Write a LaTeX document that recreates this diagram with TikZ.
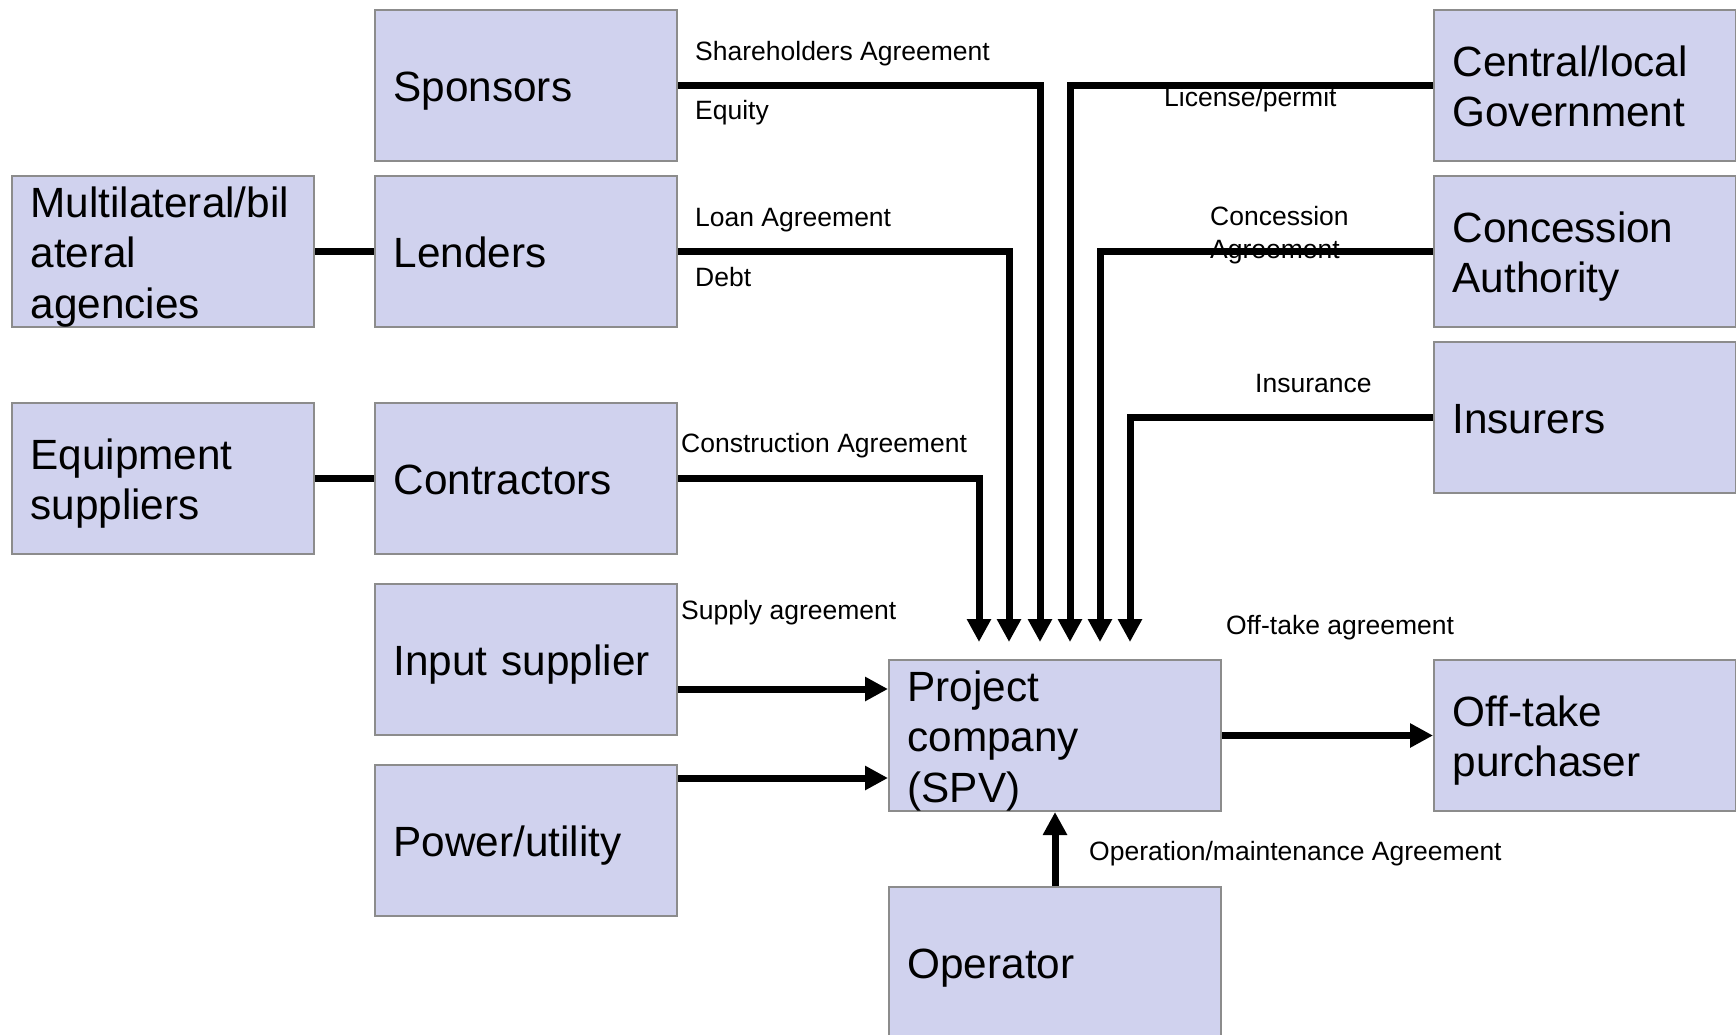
\documentclass[tikz,border=0pt]{standalone}
\usepackage{fontspec}
\setmainfont{Liberation Sans}
\usetikzlibrary{arrows.meta}
\definecolor{boxfill}{RGB}{208,210,238}
\definecolor{boxline}{RGB}{140,140,140}
\newcommand{\bigtxt}{\fontsize{42.3}{50.5}\selectfont}
\newcommand{\lbltxt}{\fontsize{26.5}{31}\selectfont}
\begin{document}
\begin{tikzpicture}[x=1pt,y=-1pt,
  party/.style={draw=boxline, line width=2pt, fill=boxfill, anchor=north west,
    minimum width=302pt, minimum height=151pt, inner xsep=18.5pt, inner ysep=0pt,
    text width=265pt, align=left, font=\bigtxt,
    execute at begin node={\rule{0pt}{41pt}},
    execute at end node={\rule[-9pt]{0pt}{9pt}}},
  wideparty/.style={party, minimum width=332pt, text width=295pt},
  lbl/.style={anchor=west, inner sep=0pt, align=left, font=\lbltxt,
    execute at begin node={\rule{0pt}{24pt}},
    execute at end node={\rule[-5pt]{0pt}{5pt}}},
  link/.style={line width=7pt},
  arr/.style={line width=7pt, -{Triangle[length=23pt,width=23pt]}}]
\useasboundingbox (0,0) rectangle (1736,1035);

% parties
\node[party] (sponsors)    at (374,9)   {Sponsors};
\node[party] (lenders)     at (374,175) {Lenders};
\node[party] (multi)       at (11,175)  {Multilateral/bil\\ateral\\agencies};
\node[party] (equip)       at (11,402)  {Equipment\\suppliers};
\node[party] (contractors) at (374,402) {Contractors};
\node[party] (input)       at (374,583) {Input supplier};
\node[party] (power)       at (374,764) {Power/utility};
\node[wideparty] (project) at (888,659) {Project\\company\\(SPV)};
\node[wideparty] (operator) at (888,886) {Operator};
\node[party] (offtake)     at (1433,659) {Off-take\\purchaser};
\node[party] (gov)         at (1433,9)   {Central/local\\Government};
\node[party] (concession)  at (1433,175) {Concession\\Authority};
\node[party] (insurers)    at (1433,341) {Insurers};

% agreement labels
\node[lbl] (lShare)  at (695,51)   {Shareholders Agreement};
\node[lbl] (lEquity) at (695,110)  {Equity};
\node[lbl] (lLoan)   at (695,217)  {Loan Agreement};
\node[lbl] (lDebt)   at (695,277)  {Debt};
\node[lbl] (lConstr) at (681,443)  {Construction Agreement};
\node[lbl] (lSupply) at (681,610)  {Supply agreement};
\node[lbl] (lLic)    at (1164,97)  {License/permit};
\node[lbl, font=\fontsize{26.5}{33}\selectfont] (lConc) at (1210,235) {Concession\\Agreement};
\node[lbl] (lIns)    at (1255,383) {Insurance};
\node[lbl] (lOff)    at (1226,625) {Off-take agreement};
\node[lbl] (lOM)     at (1089,851) {Operation/maintenance Agreement};

% arrow tips above the project company
\coordinate (tC) at (979,642);
\coordinate (tL) at (1009,642);
\coordinate (tS) at (1040,642);
\coordinate (tG) at (1070,642);
\coordinate (tA) at (1100,642);
\coordinate (tI) at (1130,642);
\coordinate (pIn) at (888,689);
\coordinate (pPw) at (888,778);

% connectors
\draw[link] (multi.east) -- (lenders.west);
\draw[link] (equip.east) -- (contractors.west);
\draw[arr] (contractors.east) -| (tC);
\draw[arr] (lenders.east) -| (tL);
\draw[arr] (sponsors.east) -| (tS);
\draw[arr] (gov.west) -| (tG);
\draw[arr] (concession.west) -| (tA);
\draw[arr] (insurers.west) -| (tI);
\draw[arr] (input.east |- pIn) -- (pIn);
\draw[arr] (power.east |- pPw) -- (pPw);
\draw[arr] (project.east) -- (offtake.west);
\draw[arr] (operator.north) -- (project.south);
\end{tikzpicture}
\end{document}
